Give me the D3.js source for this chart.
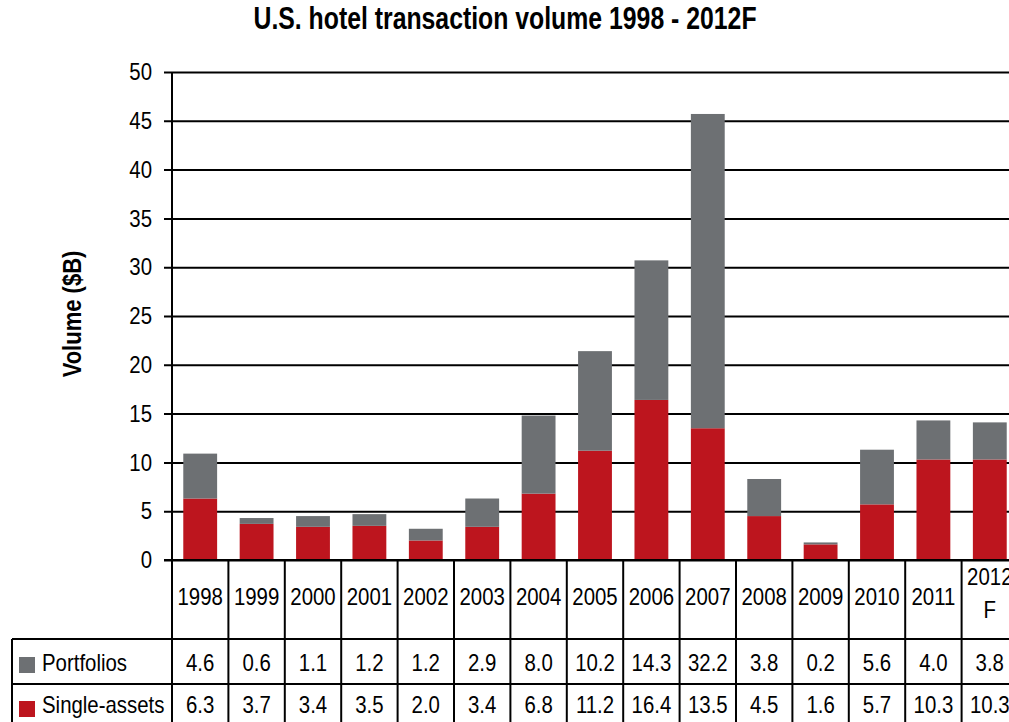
<!DOCTYPE html>
<html>
<head>
<meta charset="utf-8">
<script src="https://cdn.jsdelivr.net/npm/d3@7"></script>
<style>
  body { margin: 0; background: #fff; }
  svg text { font-family: "Liberation Sans Narrow", "Arial Narrow", "Liberation Sans", Arial, sans-serif; }
</style>
</head>
<body>
<svg id="chart" width="1009" height="722"></svg>
<script>

const years = ["1998","1999","2000","2001","2002","2003","2004","2005","2006","2007","2008","2009","2010","2011","2012F"];
const yearLabels = ["1998","1999","2000","2001","2002","2003","2004","2005","2006","2007","2008","2009","2010","2011","2012 F"];
const portfolios = [4.6, 0.6, 1.1, 1.2, 1.2, 2.9, 8.0, 10.2, 14.3, 32.2, 3.8, 0.2, 5.6, 4.0, 3.8];
const singleAssets = [6.3, 3.7, 3.4, 3.5, 2.0, 3.4, 6.8, 11.2, 16.4, 13.5, 4.5, 1.6, 5.7, 10.3, 10.3];
const yTicks = [0, 5, 10, 15, 20, 25, 30, 35, 40, 45, 50];

const seriesNames = ["Single-assets", "Portfolios"];
const colors = {"Single-assets": "#bd151e", "Portfolios": "#6d7073"};

// squeeze text horizontally, the fonts here have no narrow cut
const condense = function(sel, factor){
    sel.each(function(){
        let w = this.getComputedTextLength();
        d3.select(this)
            .attr("textLength", w * factor)
            .attr("lengthAdjust", "spacingAndGlyphs");
    });
};

const chart = function(){

    let svg = d3.select('#chart'),
        width = 1009,
        margin = {top: 72, left: 172, plotBottom: 560};

    let rows = years.map(function(y, i){
        return {year: y, label: yearLabels[i], "Single-assets": singleAssets[i], "Portfolios": portfolios[i]};
    });

    let xScale = d3.scaleBand()
                    .domain(years)
                    .range([margin.left, margin.left + 15 * 56.4])
                    .paddingInner(0.4)
                    .paddingOuter(0.2);

    let yScale = d3.scaleLinear()
                    .domain([0, 50])
                    .range([margin.plotBottom, margin.top]);

    // title
    svg.append("text")
        .attr("x", 505).attr("y", 29)
        .attr("text-anchor", "middle")
        .style("font-size", "31px")
        .style("font-weight", "bold")
        .text("U.S. hotel transaction volume 1998 - 2012F")
        .call(condense, 0.8);

    // y axis label
    svg.append("text")
        .attr("transform", "translate(81,314) rotate(-90)")
        .attr("text-anchor", "middle")
        .style("font-size", "25px")
        .style("font-weight", "bold")
        .text("Volume ($B)")
        .call(condense, 0.88);

    // gridlines + y axis
    let yAxis = d3.axisLeft(yScale)
                    .tickValues(yTicks)
                    .tickSize(-(width - margin.left + 8))
                    .tickPadding(14)
                    .tickFormat(d3.format("d"));

    let gy = svg.append("g")
        .attr("transform", `translate(${margin.left},0)`)
        .call(yAxis);
    gy.select(".domain").remove();
    gy.selectAll(".tick line")
        .attr("x1", -8)
        .attr("stroke", "#000")
        .attr("stroke-width", 2);
    gy.selectAll(".tick text")
        .attr("x", -20)
        .style("font-size", "24px")
        .attr("fill", "#000")
        .call(condense, 0.85);

    svg.append("line")
        .attr("x1", margin.left).attr("x2", margin.left)
        .attr("y1", margin.top).attr("y2", 722)
        .attr("stroke", "#000").attr("stroke-width", 2);

    // stacked bars
    let stacked = d3.stack().keys(seriesNames)(rows);

    svg.append("g").selectAll("g")
        .data(stacked)
        .enter()
        .append("g")
        .attr("fill", function(d){ return colors[d.key] })
        .selectAll("rect")
        .data(function(d){ return d })
        .enter()
        .append("rect")
        .attr("x", function(d){ return xScale(d.data.year) })
        .attr("width", xScale.bandwidth())
        .attr("y", function(d){ return yScale(d[1]) })
        .attr("height", function(d){ return yScale(d[0]) - yScale(d[1]) });

    // data table
    let half = xScale.step() * xScale.paddingInner() / 2,
        rowBottom = 722,
        table = svg.append("g");

    table.append("line")
        .attr("x1", margin.left - 8).attr("x2", width)
        .attr("y1", 560).attr("y2", 560)
        .attr("stroke", "#000").attr("stroke-width", 2);

    [639, 684].forEach(function(y){
        table.append("line")
            .attr("x1", 12).attr("x2", width)
            .attr("y1", y).attr("y2", y)
            .attr("stroke", "#000").attr("stroke-width", 2);
    });

    table.append("line")
        .attr("x1", 12).attr("x2", 12)
        .attr("y1", 639).attr("y2", rowBottom)
        .attr("stroke", "#000").attr("stroke-width", 2);

    table.selectAll("line.col")
        .data(years)
        .enter()
        .append("line")
        .attr("class", "col")
        .attr("x1", function(d){ return xScale(d) + xScale.bandwidth() + half })
        .attr("x2", function(d){ return xScale(d) + xScale.bandwidth() + half })
        .attr("y1", 560).attr("y2", rowBottom)
        .attr("stroke", "#000").attr("stroke-width", 2);

    // category labels
    let cx = function(d){ return xScale(d.year) + xScale.bandwidth() / 2 };
    table.selectAll("text.cat")
        .data(rows)
        .enter()
        .append("text")
        .attr("class", "cat")
        .attr("text-anchor", "middle")
        .style("font-size", "24px")
        .each(function(d){
            let parts = d.label.split(" ");
            let el = d3.select(this);
            parts.forEach(function(p, i){
                el.append("tspan")
                    .attr("x", cx(d))
                    .attr("y", parts.length > 1 ? 585 + i * 33 : 605)
                    .text(p)
                    .call(condense, 0.85);
            });
        });

    // value rows with legend keys
    let valueRows = [
        {key: "Portfolios", y: 671, keyY: 657},
        {key: "Single-assets", y: 713, keyY: 701}
    ];
    valueRows.forEach(function(r){
        table.selectAll(null)
            .data(rows)
            .enter()
            .append("text")
            .attr("x", cx)
            .attr("y", r.y)
            .attr("text-anchor", "middle")
            .style("font-size", "24px")
            .text(function(d){ return d[r.key].toFixed(1) })
            .call(condense, 0.85);

        table.append("rect")
            .attr("x", 19).attr("y", r.keyY)
            .attr("width", 16).attr("height", 16)
            .attr("fill", colors[r.key]);

        table.append("text")
            .attr("x", 42).attr("y", r.y)
            .style("font-size", "24px")
            .text(r.key)
            .call(condense, 0.85);
    });

}();

</script>
</body>
</html>
